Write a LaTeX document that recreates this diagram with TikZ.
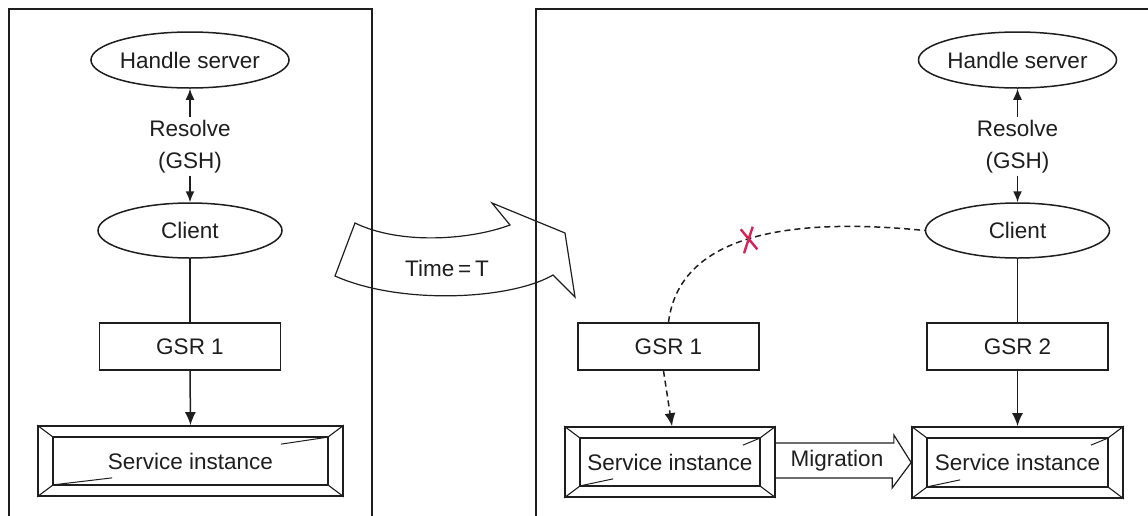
\documentclass[tikz,border=0pt]{standalone}
\usepackage{fontspec}
\setmainfont{Liberation Sans}
\usetikzlibrary{shapes.geometric,arrows.meta}
\definecolor{ink}{RGB}{30,30,30}
\definecolor{crossred}{RGB}{214,34,84}
\begin{document}
\begin{tikzpicture}[x=1pt,y=-1pt,
  font=\fontsize{22.5}{27}\selectfont,
  color=ink, line width=1.5pt,
  hsbox/.style={ellipse, draw, minimum width=184pt, minimum height=56pt, inner sep=0pt},
  gsrbox/.style={rectangle, draw, minimum width=181pt, minimum height=47pt, inner sep=0pt},
  svcbox/.style={rectangle, draw, line width=1.7pt, inner sep=0pt},
  lbl/.style={inner sep=1.5pt},
  tip/.style={-{Latex[length=13pt,width=11pt]}},
  smalltip/.style={-{Latex[length=11pt,width=9pt]}},
  dashline/.style={dash pattern=on 6pt off 4pt},
  framebox/.style={line width=2pt}]
\useasboundingbox (0,0) rectangle (1148,515);

% panel frames
\draw[framebox] (9,530) -- (9,9) -- (372,9) -- (372,530);
\draw[framebox] (536,530) -- (536,9) -- (1160,9);

% ---- before migration ----
\node[hsbox] (hsA) at (190,60) {Handle server};
\node[lbl] (rvA) at (190,128) {Resolve};
\node[lbl] (ghA) at (190,163) {(GSH)};
\node[hsbox, minimum height=55pt] (clA) at (190,230.5) {Client};
\node[gsrbox] (gsA) at (190,346.5) {GSR 1};
\node[svcbox, minimum width=305pt, minimum height=70pt] (siA) at (190.5,461) {Service instance};

\draw[smalltip] (rvA.north) -- (hsA.south);
\draw[smalltip] (ghA.south) -- (clA.north);
\draw (clA.south) -- (gsA.north);
\draw[tip] (gsA.south) -- (siA.north);

% ---- after migration ----
\node[hsbox] (hsB) at (1017.5,60) {Handle server};
\node[lbl] (rvB) at (1017.5,128) {Resolve};
\node[lbl] (ghB) at (1017.5,163) {(GSH)};
\node[hsbox, minimum height=55pt] (clB) at (1017.5,230.5) {Client};
\node[gsrbox] (gsB) at (668.5,346.5) {GSR 1};
\node[gsrbox] (gsC) at (1017.5,346.5) {GSR 2};
\node[svcbox, minimum width=210pt, minimum height=70pt] (siB) at (670,462) {Service instance};
\node[svcbox, minimum width=211pt, minimum height=71pt] (siC) at (1017.5,462.5) {Service instance};

\draw[smalltip] (rvB.north) -- (hsB.south);
\draw[smalltip] (ghB.south) -- (clB.north);
\draw (clB.south) -- (gsC.north);
\draw[tip] (gsC.south) -- (siC.north);

% stale reference from the client to the old GSR
\draw[dashline] (gsB.north) .. controls (680,230) and (800,218) .. (clB.west);
\draw[dashline, tip] ([xshift=-5pt]gsB.south) -- ([xshift=2pt]siB.north);
\draw[crossred, line width=2.4pt] (740.7,229.3) -- (757.3,249.3) (752.7,226.7) -- (744,253.3);

% bevelled frames of the service instances
\foreach \n/\g/\h in {siA/59/47, siB/33/17, siC/33/17} {
  \draw ([xshift=16pt,yshift=-12pt]\n.north west) rectangle ([xshift=-16pt,yshift=12pt]\n.south east);
  \draw[line width=1.1pt] (\n.north west) -- ([xshift=16pt,yshift=-12pt]\n.north west)
        (\n.north east) -- ([xshift=-16pt,yshift=-12pt]\n.north east)
        (\n.south west) -- ([xshift=16pt,yshift=12pt]\n.south west)
        (\n.south east) -- ([xshift=-16pt,yshift=12pt]\n.south east);
  \draw[line width=1pt] ([xshift=16pt,yshift=12pt]\n.south west) -- ++(\g,-7)
        ([xshift=-16pt,yshift=-12pt]\n.north east) -- ++(-\h,7);
}

% migration block arrow
\draw[line width=1.2pt] (siB.east) ++(0,-19) -- ++(118,0) -- ++(0,-8) -- (siC.west)
      -- ++(-19,25.5) -- ++(0,-10) -- ++(-118,0);
\node (mig) at (837,461) {Migration};

% curved time arrow between the panels
\draw[line width=1.2pt] (355,223) .. controls (400,245) and (470,240) .. (510,225)
      -- (492,203) -- (565,233) -- (575,297) -- (553,275)
      .. controls (510,300) and (400,305) .. (335,276) -- cycle;
\node (tm) at (447,268) {Time\,=\,T};
\end{tikzpicture}
\end{document}
